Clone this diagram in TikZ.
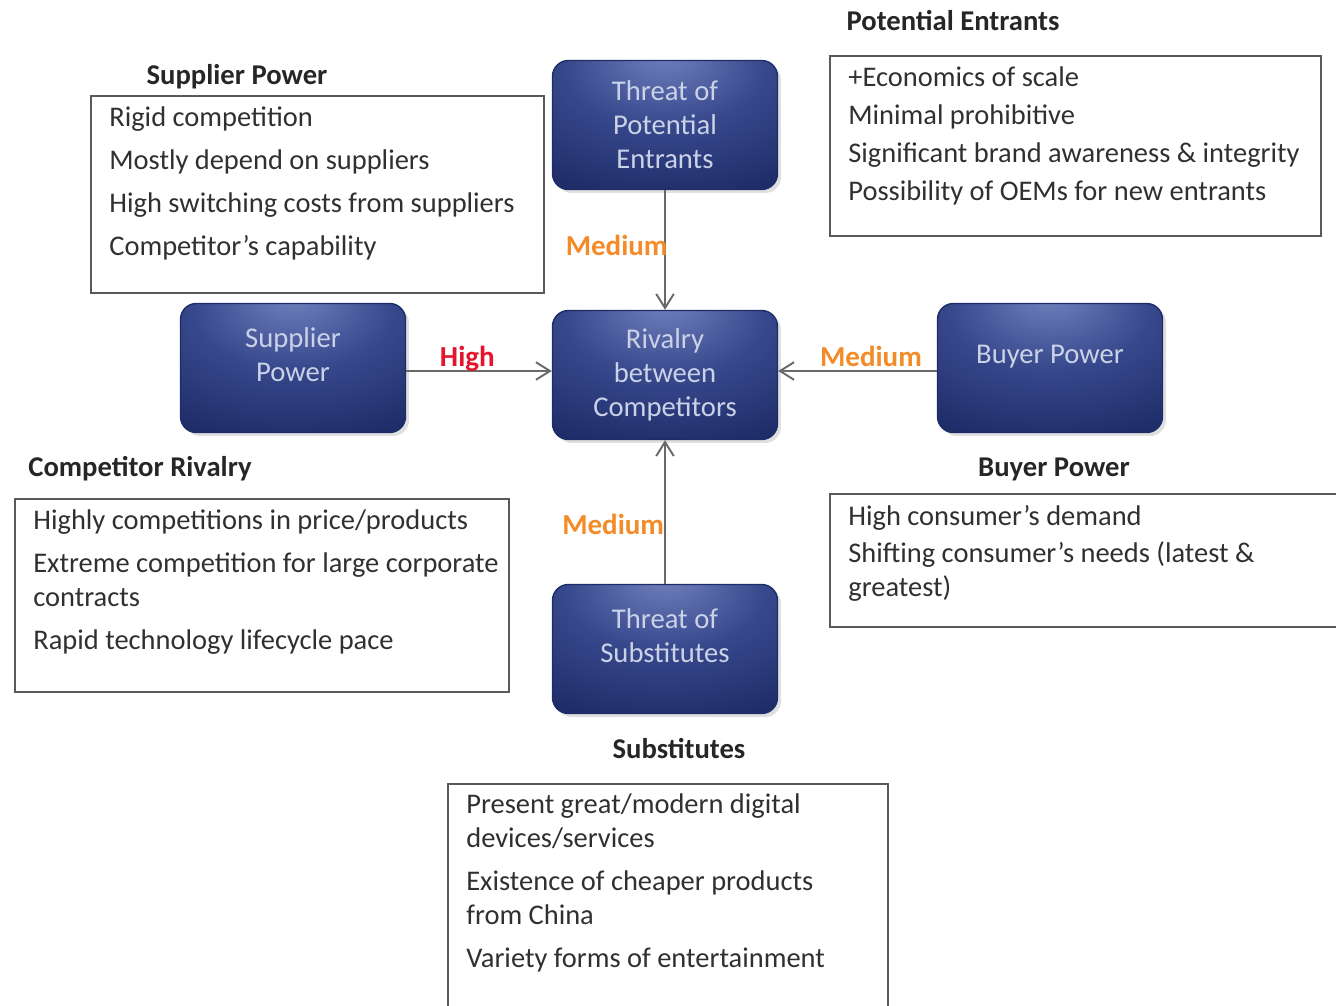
\documentclass[tikz,border=0pt]{standalone}
\usepackage{fontspec}
\setmainfont{Carlito}
\usetikzlibrary{arrows.meta,positioning,shadows}
\definecolor{navydark}{RGB}{30,44,104}
\definecolor{navymid}{RGB}{55,72,140}
\definecolor{navylight}{RGB}{112,128,190}
\definecolor{forcetext}{RGB}{202,210,232}
\definecolor{boxline}{RGB}{90,90,90}
\definecolor{listtext}{RGB}{48,48,48}
\definecolor{medorange}{RGB}{243,140,40}
\definecolor{highred}{RGB}{228,20,45}
\definecolor{linkgray}{RGB}{105,105,105}
\pgfdeclareradialshading{forceshade}{\pgfpoint{0bp}{28bp}}{%
  color(0bp)=(navylight); color(22bp)=(navymid); color(45bp)=(navydark); color(100bp)=(navydark)}
\tikzset{
  forcebox/.style={rectangle,rounded corners=9pt,draw=navydark,line width=0.8pt,
    shading=forceshade,drop shadow={opacity=0.25,shadow xshift=2pt,shadow yshift=-2pt},
    minimum width=4.5cm,minimum height=2.58cm,align=center,
    text=forcetext,font=\fontsize{16.3}{19.3}\selectfont,inner sep=2pt},
  lifted/.style={text depth=0.55cm},
  listbox/.style={rectangle,draw=boxline,line width=1pt,anchor=north west,inner sep=0pt},
  listtxt/.style={anchor=north west,align=left,inner sep=0pt,text=listtext,
    font=\fontsize{16.2}{19.4}\selectfont},
  boxtitle/.style={font=\fontsize{16.3}{18}\selectfont\bfseries,text=black!85,inner sep=0pt},
  link/.style={-{Straight Barb[length=8pt,width=10pt]},draw=linkgray,line width=1.1pt},
  rate/.style={font=\fontsize{16.5}{18}\selectfont\bfseries,inner sep=1pt},
}
\begin{document}
\begin{tikzpicture}[x=0.02cm,y=-0.02cm]
\useasboundingbox (0,0) rectangle (1336,1006);
% the five forces
\node[forcebox] (entrants) at (665,125) {Threat of\\Potential\\Entrants};
\node[forcebox,lifted] (supplier) at (293,368) {Supplier\\Power};
\node[forcebox] (rivalry) at (665,375) {Rivalry\\between\\Competitors};
\node[forcebox,lifted] (buyer) at (1050,368) {Buyer Power};
\node[forcebox,lifted] (substitutes) at (665,649) {Threat of\\Substitutes};

% connectors
\draw[link] (entrants.south) -- node[rate,text=medorange,pos=0.46,anchor=east,xshift=3pt] (entrantsrate) {Medium} (rivalry.north);
\draw[link] ([yshift=-0.06cm]supplier.east) -- node[rate,text=highred,pos=0.42,anchor=base,yshift=0.09cm] (supplierrate) {High} ([yshift=-0.06cm]supplier.east -| rivalry.west);
\draw[link] ([yshift=-0.06cm]buyer.west) -- node[rate,text=medorange,pos=0.415,anchor=base,yshift=0.08cm] (buyerrate) {Medium} ([yshift=-0.06cm]buyer.west -| rivalry.east);
\draw[link] (substitutes.north) -- node[rate,text=medorange,pos=0.41,anchor=east,xshift=1pt] (substitutesrate) {Medium} (rivalry.south);

% supplier power
\node[boxtitle] (suptitle) at (237,77) {Supplier Power};
\node[listbox,minimum width=9.06cm,minimum height=3.94cm] (supbox) at (90,95) {};
\node[listtxt] (suplist) at (109,106.5) {Rigid competition\\[0.18cm]
  Mostly depend on suppliers\\[0.18cm]
  High switching costs from suppliers\\[0.18cm]
  Competitor’s capability};

% potential entrants
\node[boxtitle] (enttitle) at (953,21) {Potential Entrants};
\node[listbox,minimum width=9.82cm,minimum height=3.6cm] (entbox) at (829,55) {};
\node[listtxt] (entlist) at (848,66.5) {+Economics of scale\\[0.08cm]
  Minimal prohibitive\\[0.08cm]
  Significant brand awareness \& integrity\\[0.08cm]
  Possibility of OEMs for new entrants};

% competitor rivalry
\node[boxtitle] (rivtitle) at (140,469) {Competitor Rivalry};
\node[listbox,minimum width=9.88cm,minimum height=3.86cm] (rivbox) at (14,498) {};
\node[listtxt] (rivlist) at (33,509.5) {Highly competitions in price/products\\[0.18cm]
  Extreme competition for large corporate\\
  contracts\\[0.18cm]
  Rapid technology lifecycle pace};

% buyer power
\node[boxtitle] (buytitle) at (1054,469) {Buyer Power};
\node[listbox,minimum width=10.42cm,minimum height=2.66cm] (buybox) at (829,493) {};
\node[listtxt] (buylist) at (848,505) {High consumer’s demand\\[0.06cm]
  Shifting consumer’s needs (latest \&\\
  greatest)};

% substitutes
\node[boxtitle] (subtitle) at (679,749) {Substitutes};
\node[listbox,minimum width=8.8cm,minimum height=4.94cm] (subbox) at (447,783) {};
\node[listtxt] (sublist) at (466,793) {Present great/modern digital\\
  devices/services\\[0.18cm]
  Existence of cheaper products\\
  from China\\[0.18cm]
  Variety forms of entertainment};
\end{tikzpicture}
\end{document}
